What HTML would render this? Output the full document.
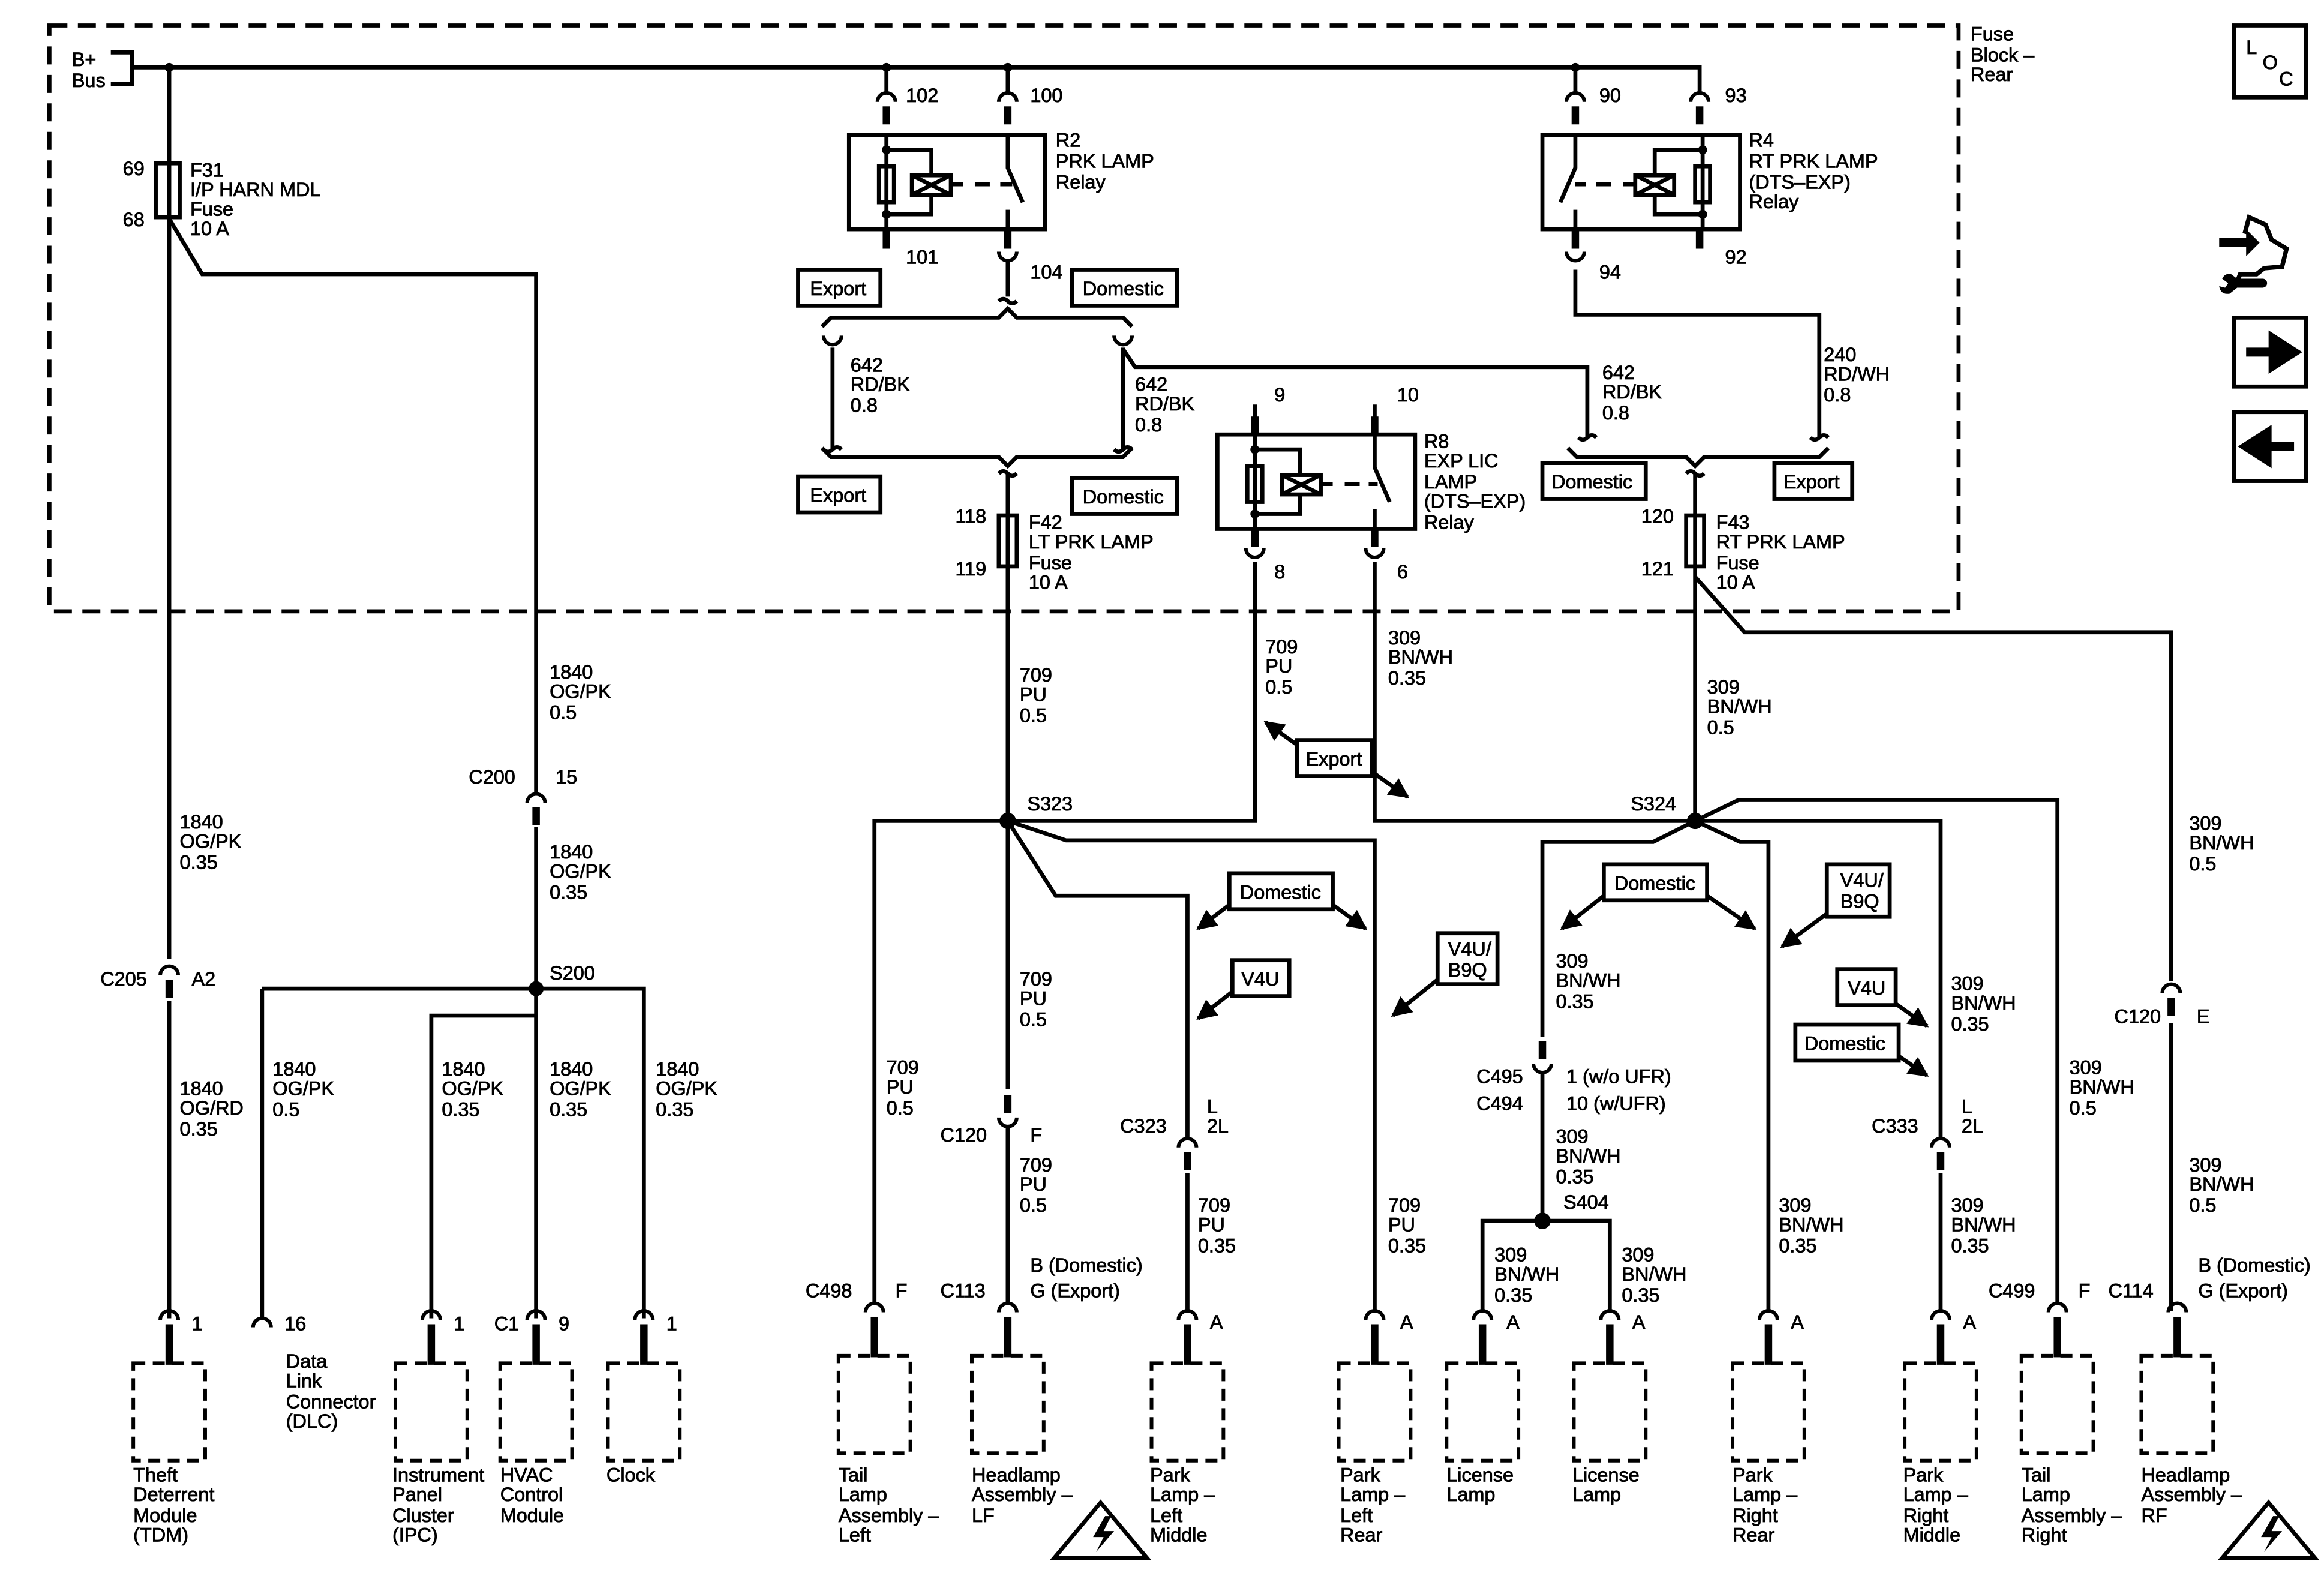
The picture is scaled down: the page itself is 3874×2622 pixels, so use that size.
<!DOCTYPE html>
<html><head><meta charset="utf-8"><style>
html,body{margin:0;padding:0;background:#fff}
svg{display:block}
text{font-family:"Liberation Sans",Arial,sans-serif;font-size:13px;fill:#000;stroke:#000;stroke-width:0.35}
</style></head><body>
<svg width="3874" height="2622" viewBox="0 0 1552 1050" preserveAspectRatio="none" xmlns="http://www.w3.org/2000/svg">
<defs>
<marker id="ah" viewBox="0 0 10 10" refX="9" refY="5" markerWidth="5" markerHeight="5" orient="auto"><path d="M0,0 L10,5 L0,10 z" fill="#000"/></marker>
<g id="cd"><path d="M-6,6 A6,6 0 0 1 6,6" fill="none" stroke="#000" stroke-width="2.4"/><rect x="-2.5" y="9" width="5" height="12" fill="#000"/></g>
<g id="cu"><path d="M-6,-6 A6,6 0 0 0 6,-6" fill="none" stroke="#000" stroke-width="2.4"/><rect x="-2.5" y="-21" width="5" height="12" fill="#000"/></g>
<g id="cb"><path d="M-6,6 A6,6 0 0 1 6,6" fill="none" stroke="#000" stroke-width="2.4"/><rect x="-2.5" y="9" width="5" height="27" fill="#000"/><rect x="-24" y="35" width="48" height="65" fill="none" stroke="#000" stroke-width="2.4" stroke-dasharray="8,5"/></g>
</defs>
<g fill="none" stroke="#000" stroke-width="2.7">
<rect x="33" y="17" width="1275" height="391" stroke-dasharray="12,7"/>
<path d="M74,35 H88 V56 H74 M88,45 H1135 V62"/>
<path d="M113,45 V640 M113,668 V880"/>
<path d="M113,146 L135,183 H358 V530 M358,552 V880"/>
<path d="M175,660 H430 V880 M175,660 V880 M288,880 V678 H358"/>
<path d="M592,45 V62 M673,45 V62 M1052,45 V62"/>
<!-- R2 -->
<rect x="567" y="90" width="131" height="63"/>
<path d="M592,90 V153 M592,100 H622 V117 M622,130 V143 H592"/>
<rect x="587" y="111" width="10" height="24"/>
<rect x="609" y="117" width="26" height="13"/>
<path d="M609,117 L635,130 M609,130 L635,117"/>
<path d="M635,123 H643 M651,123 H661 M668,123 H676" />
<path d="M673,90 V112 L683,135 M673,140 V153"/>
<!-- R4 -->
<rect x="1030" y="90" width="132" height="63"/>
<path d="M1137,90 V153 M1137,100 H1105 V117 M1105,130 V143 H1137"/>
<rect x="1132" y="111" width="10" height="24"/>
<rect x="1092" y="117" width="26" height="13"/>
<path d="M1092,117 L1118,130 M1092,130 L1118,117"/>
<path d="M1092,123 H1084 M1076,123 H1066 M1059,123 H1052"/>
<path d="M1052,90 V112 L1042,135 M1052,140 V153"/>
<!-- R8 -->
<rect x="813" y="290" width="132" height="63"/>
<path d="M838,270 V353 M838,300 H868 V317 M868,330 V343 H838"/>
<rect x="833" y="311" width="10" height="24"/>
<rect x="856" y="317" width="26" height="13"/>
<path d="M856,317 L882,330 M856,330 L882,317"/>
<path d="M882,323 H890 M898,323 H908 M914,323 H920"/>
<path d="M918,270 V312 L928,335 M918,340 V353"/>
<!-- left jumps -->
<path d="M673,174 V198 M667,201 q3,-3 6,0 q3,3 6,0"/>
<path d="M549,218 L555,212 H667 L673,206 L679,212 H750 L756,218"/>
<path d="M556,232 V300 M550,300 q3,3 6,0 q3,-3 6,0"/>
<path d="M750,232 V300 M744,300 q3,3 6,0 q3,-3 6,0"/>
<path d="M750,233 L758,245 H1060 V292 M1054,292 q3,3 6,0 q3,-3 6,0"/>
<path d="M549,299 L555,305 H667 L673,311 L679,305 H750 L756,299"/>
<path d="M667,316 q3,-3 6,0 q3,3 6,0 M673,316 V548"/>
<rect x="667" y="344" width="12" height="34"/>
<path d="M1052,180 V210 H1215 V292 M1209,292 q3,3 6,0 q3,-3 6,0"/>
<path d="M1047,299 L1053,305 H1126 L1132,311 L1138,305 H1215 L1221,299"/>
<path d="M1126,316 q3,-3 6,0 q3,3 6,0 M1132,316 V548"/>
<rect x="1126" y="344" width="12" height="34"/>
<rect x="104" y="109" width="16" height="36"/>
<path d="M1132,385 L1165,422 H1450 V655 M1450,683 V875"/>
<path d="M838,375 V548 H584 V870 M918,375 V548 H1132"/>
<path d="M673,548 V727 M673,752 V870"/>
<path d="M673,548 L705,598 H793 V760 M793,783 V875"/>
<path d="M673,548 L712,561 H918 V875"/>
<path d="M1132,548 L1104,562 H1030 V692 M1030,716 V815 M990,875 V815 H1075 V875"/>
<path d="M1132,548 L1162,562 H1181 V875"/>
<path d="M1132,548 H1296 V760 M1296,783 V875"/>
<path d="M1132,548 L1161,534 H1374 V870"/>
<!-- annotation boxes -->
<rect x="533" y="180" width="55" height="24"/><rect x="716" y="180" width="70" height="24"/>
<rect x="533" y="318" width="55" height="24"/><rect x="716" y="319" width="70" height="24"/>
<rect x="1030" y="309" width="69" height="24"/><rect x="1185" y="309" width="52" height="24"/>
<rect x="866" y="494" width="50" height="24"/>
<rect x="821" y="583" width="69" height="24"/><rect x="823" y="641" width="38" height="24"/>
<rect x="960" y="623" width="40" height="34"/>
<rect x="1071" y="577" width="69" height="24"/><rect x="1220" y="577" width="42" height="35"/>
<rect x="1227" y="647" width="39" height="24"/><rect x="1199" y="684" width="69" height="24"/>
<g marker-end="url(#ah)">
<path d="M866,497 L845,482"/><path d="M916,515 L940,532"/>
<path d="M821,604 L800,620"/><path d="M890,604 L912,620"/>
<path d="M823,662 L800,680"/><path d="M960,654 L930,678"/>
<path d="M1071,598 L1043,620"/><path d="M1140,598 L1172,620"/>
<path d="M1220,610 L1190,632"/><path d="M1266,670 L1287,685"/><path d="M1268,705 L1287,718"/>
</g>
<!-- right icons -->
<rect x="1492" y="17" width="48" height="48"/>
<rect x="1492" y="212" width="48" height="46"/>
<rect x="1492" y="275" width="48" height="46"/>
<path d="M1499,156 L1502,145 L1513,150 L1517,160 L1527,166 L1524,178 L1512,179 L1507,183 L1496,183 L1494,188" stroke-width="3"/>
<!-- warning triangles -->
<path d="M735,1003 L766,1040 H704 Z"/><path d="M1515,1003 L1546,1040 H1484 Z"/>
</g>
<path d="M1482,159 H1500 V153 L1509,162 L1500,171 V165 H1482 Z" fill="#000"/>
<path d="M1484,186 q2,-4 6,-3 l4,3 h17 a3,3 0 0 1 0,6 h-17 l-5,4 q-6,1 -7,-5 l4,1 l2,-3 z" fill="#000"/>
<path d="M738,1012 L730,1026 H737 L732,1036 L744,1022 H737 L742,1012 Z" fill="#000"/>
<path d="M1518,1012 L1510,1026 H1517 L1512,1036 L1524,1022 H1517 L1522,1012 Z" fill="#000"/>
<path d="M1500,235 H1518 V226 L1532,235 L1518,244 V235" fill="#000" stroke="#000" stroke-width="6"/>
<path d="M1532,298 H1514 V289 L1500,298 L1514,307 V298" fill="#000" stroke="#000" stroke-width="6"/>
<g fill="#000">
<circle cx="113" cy="45" r="3"/><circle cx="592" cy="45" r="3"/><circle cx="673" cy="45" r="3"/><circle cx="1052" cy="45" r="3"/>
<circle cx="592" cy="100" r="3"/><circle cx="592" cy="143" r="3"/><circle cx="1137" cy="100" r="3"/><circle cx="1137" cy="143" r="3"/>
<circle cx="838" cy="300" r="3"/><circle cx="838" cy="343" r="3"/>
<circle cx="358" cy="660" r="5"/><circle cx="673" cy="548" r="5.5"/><circle cx="1132" cy="548" r="5.5"/><circle cx="1030" cy="815" r="5.5"/>
</g>
<!-- relay connectors -->
<use href="#cd" x="592" y="62"/><use href="#cd" x="673" y="62"/><use href="#cd" x="1052" y="62"/><use href="#cd" x="1135" y="62"/>
<g fill="#000"><rect x="589.5" y="153" width="5" height="13"/><rect x="670.5" y="153" width="5" height="13"/><rect x="1049.5" y="153" width="5" height="13"/><rect x="1132.5" y="153" width="5" height="13"/>
<rect x="835.5" y="353" width="5" height="12"/><rect x="915.5" y="353" width="5" height="12"/><rect x="835.5" y="278" width="5" height="12"/><rect x="915.5" y="278" width="5" height="12"/></g>
<g fill="none" stroke="#000" stroke-width="2.4">
<path d="M667,168 A6,6 0 0 0 679,168 M1046,168 A6,6 0 0 0 1058,168 M832,366 A6,6 0 0 0 844,366 M912,366 A6,6 0 0 0 924,366"/>
<path d="M550,224 A6,6 0 0 0 562,224 M744,224 A6,6 0 0 0 756,224"/>
</g>
<!-- wire connectors -->
<use href="#cd" x="113" y="645"/><use href="#cd" x="358" y="530"/>
<use href="#cu" x="673" y="752"/><use href="#cd" x="793" y="760"/>
<use href="#cu" x="1030" y="716"/><use href="#cd" x="1296" y="760"/><use href="#cd" x="1450" y="657"/>
<use href="#cb" x="113" y="875"/><use href="#cb" x="288" y="875"/><use href="#cb" x="358" y="875"/><use href="#cb" x="430" y="875"/>
<path d="M169,886 A6,6 0 0 1 181,886" fill="none" stroke="#000" stroke-width="2.4"/>
<use href="#cb" x="584" y="870"/><use href="#cb" x="673" y="870"/><use href="#cb" x="793" y="875"/><use href="#cb" x="918" y="875"/>
<use href="#cb" x="990" y="875"/><use href="#cb" x="1075" y="875"/><use href="#cb" x="1181" y="875"/><use href="#cb" x="1296" y="875"/>
<use href="#cb" x="1374" y="870"/><use href="#cb" x="1454" y="870"/>
<!-- text -->
<text x="48" y="44">B+</text><text x="48" y="58">Bus</text>
<text x="1316" y="27">Fuse</text><text x="1316" y="41">Block –</text><text x="1316" y="54">Rear</text>
<text x="82" y="117">69</text><text x="82" y="151">68</text>
<text x="127" y="118">F31</text><text x="127" y="131">I/P HARN MDL</text><text x="127" y="144">Fuse</text><text x="127" y="157">10 A</text>
<text x="605" y="68">102</text><text x="688" y="68">100</text><text x="605" y="176">101</text><text x="688" y="186">104</text>
<text x="705" y="98">R2</text><text x="705" y="112">PRK LAMP</text><text x="705" y="126">Relay</text>
<text x="1068" y="68">90</text><text x="1152" y="68">93</text><text x="1068" y="186">94</text><text x="1152" y="176">92</text>
<text x="1168" y="98">R4</text><text x="1168" y="112">RT PRK LAMP</text><text x="1168" y="126">(DTS–EXP)</text><text x="1168" y="139">Relay</text>
<text x="541" y="197">Export</text><text x="723" y="197">Domestic</text>
<text x="541" y="335">Export</text><text x="723" y="336">Domestic</text>
<text x="1036" y="326">Domestic</text><text x="1191" y="326">Export</text>
<text x="568" y="248">642</text><text x="568" y="261">RD/BK</text><text x="568" y="275">0.8</text>
<text x="758" y="261">642</text><text x="758" y="274">RD/BK</text><text x="758" y="288">0.8</text>
<text x="1070" y="253">642</text><text x="1070" y="266">RD/BK</text><text x="1070" y="280">0.8</text>
<text x="1218" y="241">240</text><text x="1218" y="254">RD/WH</text><text x="1218" y="268">0.8</text>
<text x="851" y="268">9</text><text x="933" y="268">10</text><text x="851" y="386">8</text><text x="933" y="386">6</text>
<text x="951" y="299">R8</text><text x="951" y="312">EXP LIC</text><text x="951" y="326">LAMP</text><text x="951" y="339">(DTS–EXP)</text><text x="951" y="353">Relay</text>
<text x="638" y="349">118</text><text x="638" y="384">119</text>
<text x="687" y="353">F42</text><text x="687" y="366">LT PRK LAMP</text><text x="687" y="380">Fuse</text><text x="687" y="393">10 A</text>
<text x="1096" y="349">120</text><text x="1096" y="384">121</text>
<text x="1146" y="353">F43</text><text x="1146" y="366">RT PRK LAMP</text><text x="1146" y="380">Fuse</text><text x="1146" y="393">10 A</text>
<text x="367" y="453">1840</text><text x="367" y="466">OG/PK</text><text x="367" y="480">0.5</text>
<text x="313" y="523">C200</text><text x="371" y="523">15</text>
<text x="367" y="573">1840</text><text x="367" y="586">OG/PK</text><text x="367" y="600">0.35</text>
<text x="120" y="553">1840</text><text x="120" y="566">OG/PK</text><text x="120" y="580">0.35</text>
<text x="67" y="658">C205</text><text x="128" y="658">A2</text><text x="367" y="654">S200</text>
<text x="120" y="731">1840</text><text x="120" y="744">OG/RD</text><text x="120" y="758">0.35</text>
<text x="182" y="718">1840</text><text x="182" y="731">OG/PK</text><text x="182" y="745">0.5</text>
<text x="295" y="718">1840</text><text x="295" y="731">OG/PK</text><text x="295" y="745">0.35</text>
<text x="367" y="718">1840</text><text x="367" y="731">OG/PK</text><text x="367" y="745">0.35</text>
<text x="438" y="718">1840</text><text x="438" y="731">OG/PK</text><text x="438" y="745">0.35</text>
<text x="681" y="455">709</text><text x="681" y="468">PU</text><text x="681" y="482">0.5</text>
<text x="845" y="436">709</text><text x="845" y="449">PU</text><text x="845" y="463">0.5</text>
<text x="927" y="430">309</text><text x="927" y="443">BN/WH</text><text x="927" y="457">0.35</text>
<text x="1140" y="463">309</text><text x="1140" y="476">BN/WH</text><text x="1140" y="490">0.5</text>
<text x="1462" y="554">309</text><text x="1462" y="567">BN/WH</text><text x="1462" y="581">0.5</text>
<text x="872" y="511">Export</text>
<text x="686" y="541">S323</text><text x="1089" y="541">S324</text>
<text x="828" y="600">Domestic</text><text x="829" y="658">V4U</text>
<text x="967" y="638">V4U/</text><text x="967" y="652">B9Q</text>
<text x="1078" y="594">Domestic</text><text x="1229" y="592">V4U/</text><text x="1229" y="606">B9Q</text>
<text x="1234" y="664">V4U</text><text x="1205" y="701">Domestic</text>
<text x="681" y="658">709</text><text x="681" y="671">PU</text><text x="681" y="685">0.5</text>
<text x="592" y="717">709</text><text x="592" y="730">PU</text><text x="592" y="744">0.5</text>
<text x="628" y="762">C120</text><text x="688" y="762">F</text>
<text x="681" y="782">709</text><text x="681" y="795">PU</text><text x="681" y="809">0.5</text>
<text x="748" y="756">C323</text><text x="806" y="743">L</text><text x="806" y="756">2L</text>
<text x="800" y="809">709</text><text x="800" y="822">PU</text><text x="800" y="836">0.35</text>
<text x="927" y="809">709</text><text x="927" y="822">PU</text><text x="927" y="836">0.35</text>
<text x="1039" y="646">309</text><text x="1039" y="659">BN/WH</text><text x="1039" y="673">0.35</text>
<text x="986" y="723">C495</text><text x="986" y="741">C494</text><text x="1046" y="723">1 (w/o UFR)</text><text x="1046" y="741">10 (w/UFR)</text>
<text x="1039" y="763">309</text><text x="1039" y="776">BN/WH</text><text x="1039" y="790">0.35</text>
<text x="1044" y="807">S404</text>
<text x="998" y="842">309</text><text x="998" y="855">BN/WH</text><text x="998" y="869">0.35</text>
<text x="1083" y="842">309</text><text x="1083" y="855">BN/WH</text><text x="1083" y="869">0.35</text>
<text x="1188" y="809">309</text><text x="1188" y="822">BN/WH</text><text x="1188" y="836">0.35</text>
<text x="1303" y="661">309</text><text x="1303" y="674">BN/WH</text><text x="1303" y="688">0.35</text>
<text x="1250" y="756">C333</text><text x="1310" y="743">L</text><text x="1310" y="756">2L</text>
<text x="1303" y="809">309</text><text x="1303" y="822">BN/WH</text><text x="1303" y="836">0.35</text>
<text x="1382" y="717">309</text><text x="1382" y="730">BN/WH</text><text x="1382" y="744">0.5</text>
<text x="1412" y="683">C120</text><text x="1467" y="683">E</text>
<text x="1462" y="782">309</text><text x="1462" y="795">BN/WH</text><text x="1462" y="809">0.5</text>
<text x="538" y="866">C498</text><text x="598" y="866">F</text>
<text x="628" y="866">C113</text><text x="688" y="849">B (Domestic)</text><text x="688" y="866">G (Export)</text>
<text x="1328" y="866">C499</text><text x="1388" y="866">F</text>
<text x="1408" y="866">C114</text><text x="1468" y="849">B (Domestic)</text><text x="1468" y="866">G (Export)</text>
<text x="128" y="888">1</text><text x="190" y="888">16</text><text x="303" y="888">1</text><text x="330" y="888">C1</text><text x="373" y="888">9</text><text x="445" y="888">1</text>
<text x="808" y="887">A</text><text x="935" y="887">A</text><text x="1006" y="887">A</text><text x="1090" y="887">A</text><text x="1196" y="887">A</text><text x="1311" y="887">A</text>
<text x="191" y="913">Data</text><text x="191" y="926">Link</text><text x="191" y="940">Connector</text><text x="191" y="953">(DLC)</text>
<text x="89" y="989">Theft</text><text x="89" y="1002">Deterrent</text><text x="89" y="1016">Module</text><text x="89" y="1029">(TDM)</text>
<text x="262" y="989">Instrument</text><text x="262" y="1002">Panel</text><text x="262" y="1016">Cluster</text><text x="262" y="1029">(IPC)</text>
<text x="334" y="989">HVAC</text><text x="334" y="1002">Control</text><text x="334" y="1016">Module</text>
<text x="405" y="989">Clock</text>
<text x="560" y="989">Tail</text><text x="560" y="1002">Lamp</text><text x="560" y="1016">Assembly –</text><text x="560" y="1029">Left</text>
<text x="649" y="989">Headlamp</text><text x="649" y="1002">Assembly –</text><text x="649" y="1016">LF</text>
<text x="768" y="989">Park</text><text x="768" y="1002">Lamp –</text><text x="768" y="1016">Left</text><text x="768" y="1029">Middle</text>
<text x="895" y="989">Park</text><text x="895" y="1002">Lamp –</text><text x="895" y="1016">Left</text><text x="895" y="1029">Rear</text>
<text x="966" y="989">License</text><text x="966" y="1002">Lamp</text>
<text x="1050" y="989">License</text><text x="1050" y="1002">Lamp</text>
<text x="1157" y="989">Park</text><text x="1157" y="1002">Lamp –</text><text x="1157" y="1016">Right</text><text x="1157" y="1029">Rear</text>
<text x="1271" y="989">Park</text><text x="1271" y="1002">Lamp –</text><text x="1271" y="1016">Right</text><text x="1271" y="1029">Middle</text>
<text x="1350" y="989">Tail</text><text x="1350" y="1002">Lamp</text><text x="1350" y="1016">Assembly –</text><text x="1350" y="1029">Right</text>
<text x="1430" y="989">Headlamp</text><text x="1430" y="1002">Assembly –</text><text x="1430" y="1016">RF</text>
<text x="1500" y="36">L</text><text x="1511" y="46">O</text><text x="1522" y="57">C</text>
</svg>
</body></html>
